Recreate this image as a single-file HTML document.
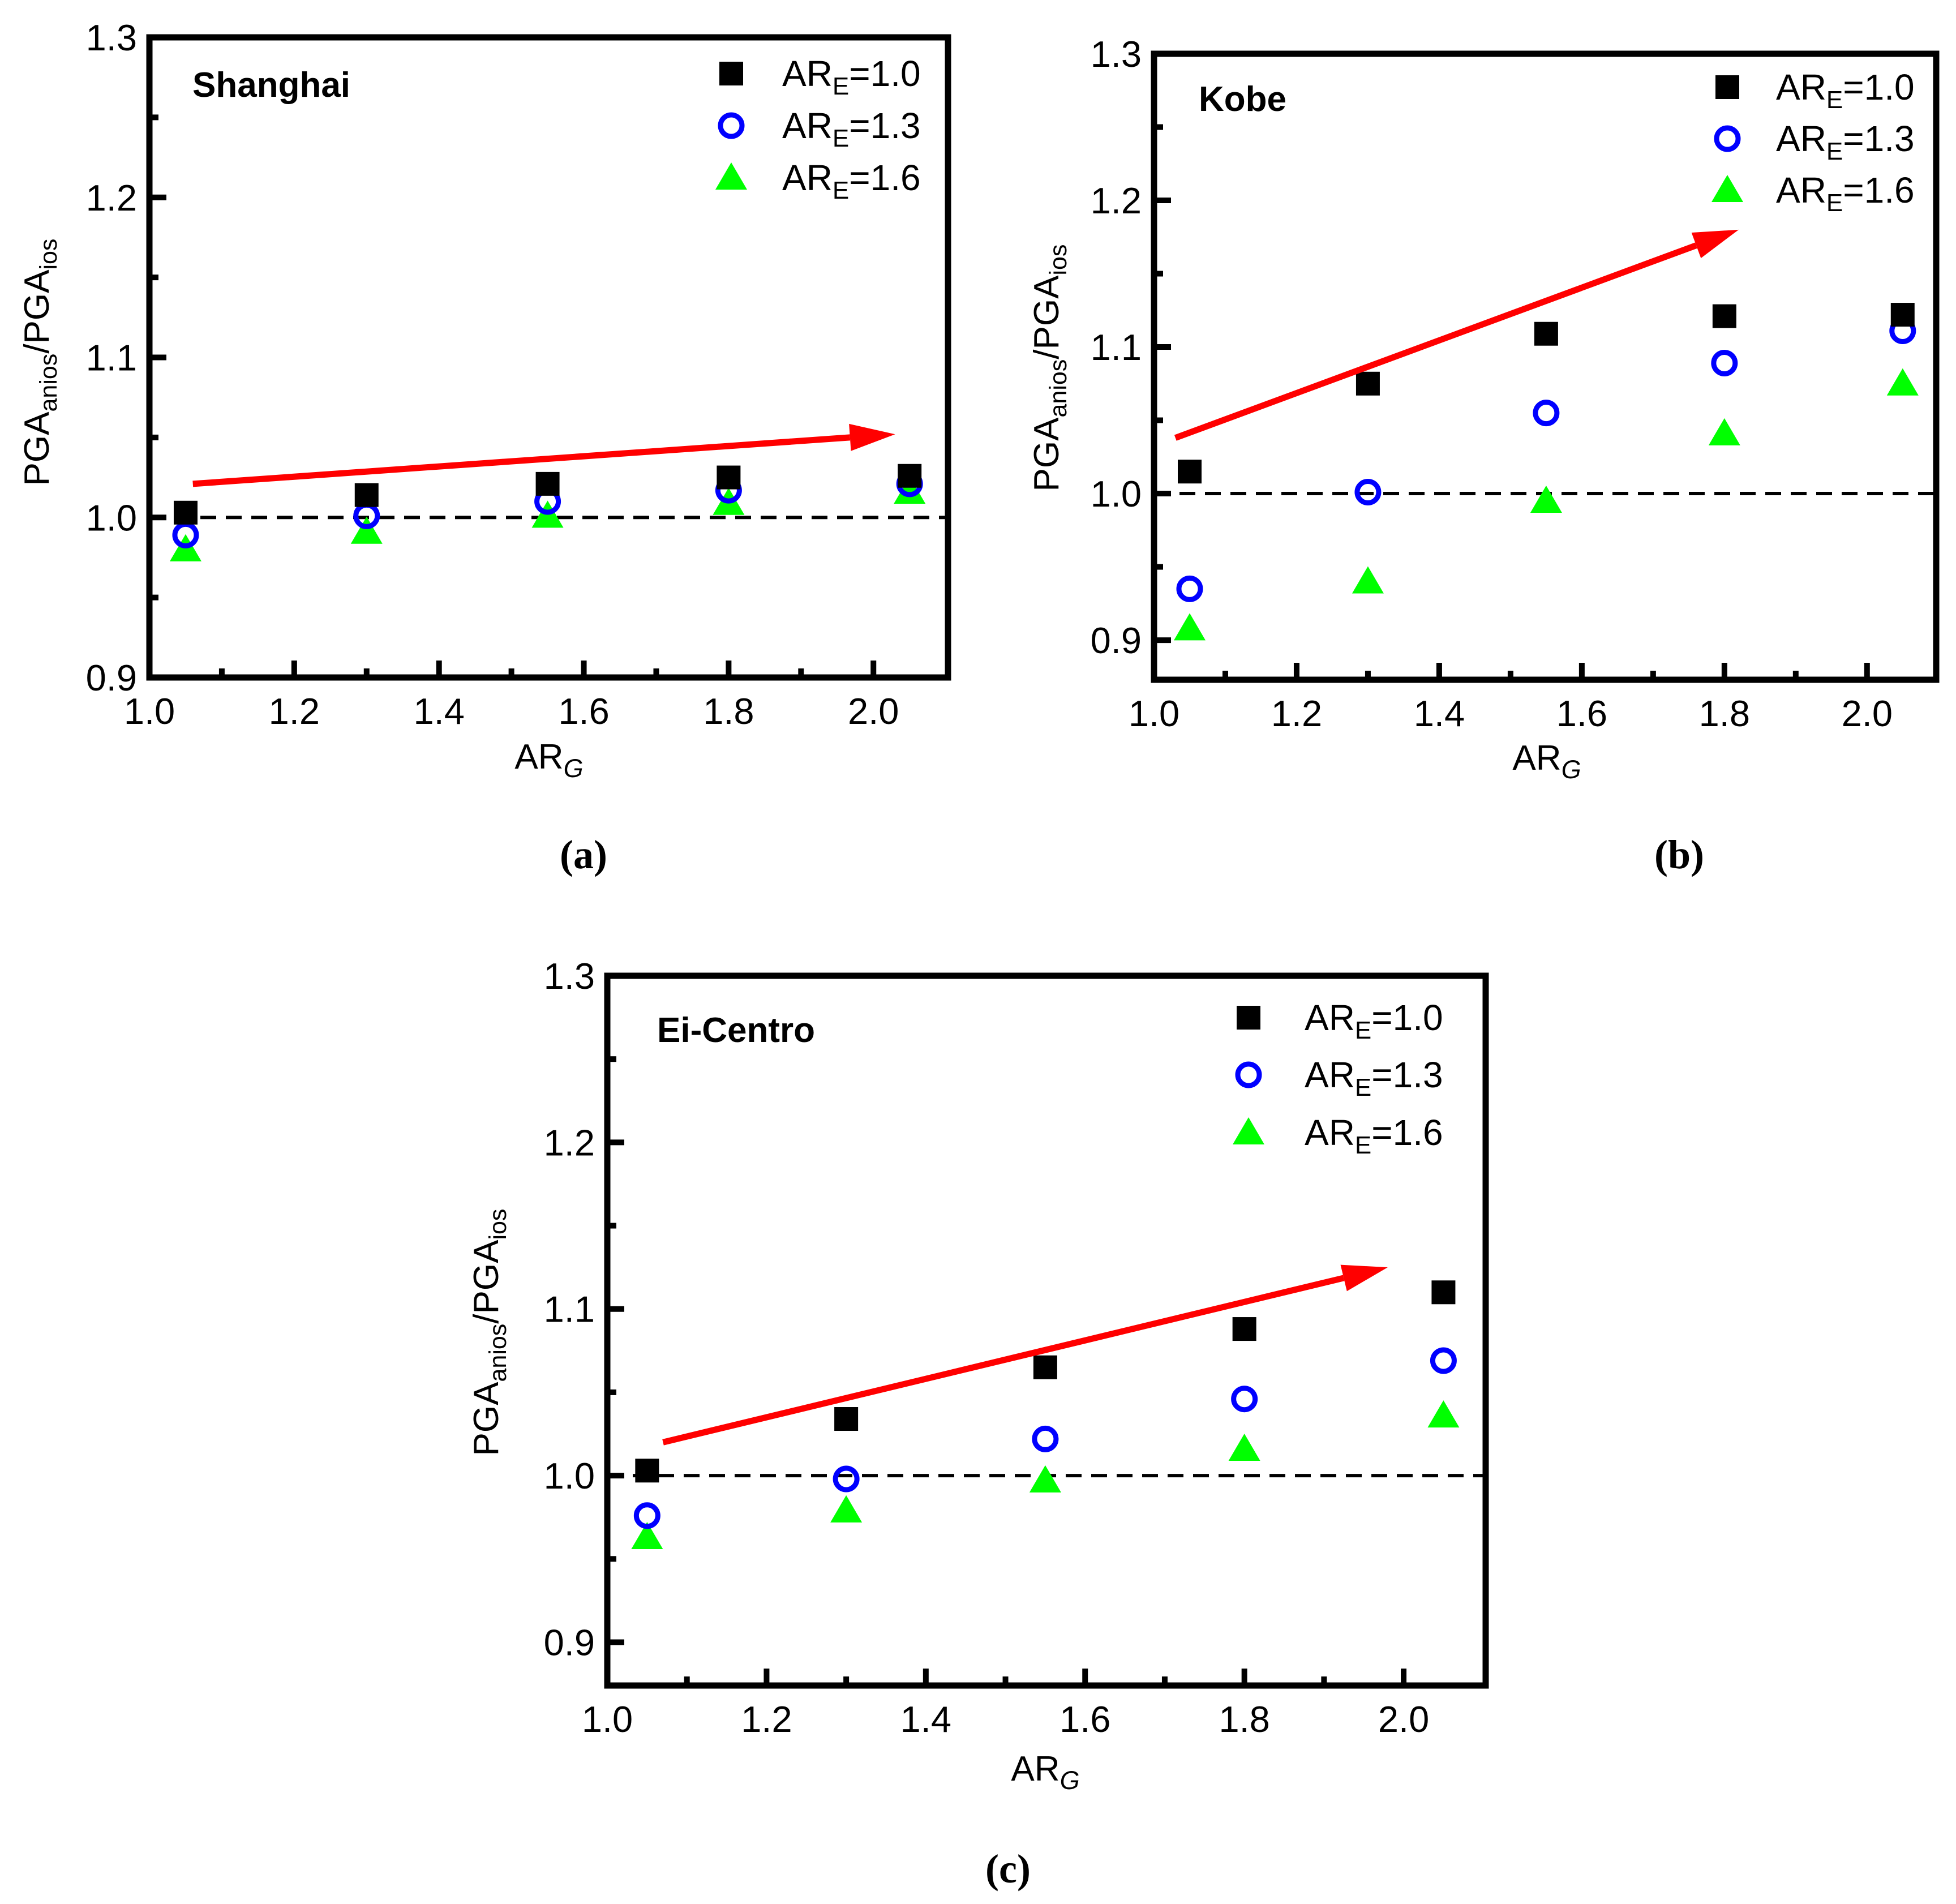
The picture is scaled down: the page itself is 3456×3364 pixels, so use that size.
<!DOCTYPE html>
<html><head><meta charset="utf-8"><style>
html,body{margin:0;padding:0;background:#fff;}
svg{display:block;font-family:"Liberation Sans",sans-serif;}
</style></head><body>
<svg id="fig" width="3456" height="3364" viewBox="0 0 3456 3364" xmlns="http://www.w3.org/2000/svg"></svg>
<script>
const categories = [1.05, 1.30, 1.55, 1.80, 2.05];
const shanghaiAR10 = [1.003, 1.014, 1.021, 1.025, 1.026];
const shanghaiAR13 = [0.989, 1.001, 1.010, 1.017, 1.021];
const shanghaiAR16 = [0.980, 0.991, 1.001, 1.009, 1.016];
const kobeAR10 = [1.015, 1.075, 1.109, 1.121, 1.122];
const kobeAR13 = [0.935, 1.001, 1.055, 1.089, 1.111];
const kobeAR16 = [0.908, 0.940, 0.995, 1.041, 1.075];
const centroAR10 = [1.003, 1.034, 1.065, 1.088, 1.110];
const centroAR13 = [0.976, 0.998, 1.022, 1.046, 1.069];
const centroAR16 = [0.963, 0.979, 0.997, 1.016, 1.036];
const yTickLabels = ["0.9", "1.0", "1.1", "1.2", "1.3"];
const xTickLabels = ["1.0", "1.2", "1.4", "1.6", "1.8", "2.0"];
const legendLabels = ["1.0", "1.3", "1.6"];
const shanghaiArrow = [1.06, 1.021, 2.03, 1.052];
const kobeArrow = [1.03, 1.038, 1.82, 1.180];
const centroArrow = [1.07, 1.020, 1.98, 1.125];

const NS = "http://www.w3.org/2000/svg";
const svg = document.getElementById('fig');
function mk(tag, attrs, parent){const e=document.createElementNS(NS,tag);for(const k in attrs)e.setAttribute(k,attrs[k]);(parent||svg).appendChild(e);return e;}

const panels = [
 {id:'a', title:'Shanghai', L:264,R:1675,T:66,B:1197, ymin:0.9,ymax:1.3, xmax:2.103, s:[shanghaiAR10,shanghaiAR13,shanghaiAR16], arrow:shanghaiArrow,
  leg:{mx:1292,tx:1382,y:[130,222,314]}, tt:[340,150], ylab:[66,640], xlab:[970,1336], plab:[1031,1510]},
 {id:'b', title:'Kobe', L:2039,R:3421,T:95,B:1201, ymin:0.873,ymax:1.3, xmax:2.097, s:[kobeAR10,kobeAR13,kobeAR16], arrow:kobeArrow,
  leg:{mx:3052,tx:3138,y:[154,245,336]}, tt:[2118,175], ylab:[1850,650], xlab:[2733,1338], plab:[2967,1510]},
 {id:'c', title:'Ei-Centro', L:1073,R:2625,T:1724,B:2978, ymin:0.874,ymax:1.3, xmax:2.103, s:[centroAR10,centroAR13,centroAR16], arrow:centroArrow,
  leg:{mx:2206,tx:2305,y:[1798,1899,2001]}, tt:[1161,1820], ylab:[860,2354], xlab:[1847,3124], plab:[1781,3302]}
];

panels.forEach(p=>{
  const g = mk('g',{});
  
  
  const xs = v => p.L + (v-1.0)/(p.xmax-1.0)*(p.R-p.L);
  const ys = v => p.B - (v-p.ymin)/(p.ymax-p.ymin)*(p.B-p.T);
  const ref = mk('line',{x1:p.L,x2:p.R,y1:ys(1.0),y2:ys(1.0),stroke:'#000','stroke-width':6,'stroke-dasharray':'28,17'},g);
  
  
  for(let i=0;i<=8;i++){
    const v = 0.9 + i*0.05; if(v>p.ymax+1e-9) continue;
    const major = i%2===0;
    const t = mk('line',{x1:p.L,x2:p.L+(major?30:16),y1:ys(v),y2:ys(v),stroke:'#000','stroke-width':10},g);
    
    
    if(major){
      const tx = mk('text',{x:p.L-22,y:ys(v)+23,'text-anchor':'end','font-size':65,fill:'#000'},g);
      tx.textContent = yTickLabels[i/2];
      
      
    }
  }
  for(let i=0;i<=10;i++){
    const v = 1.0 + i*0.1;
    const major = i%2===0;
    const t = mk('line',{x1:xs(v),x2:xs(v),y1:p.B,y2:p.B-(major?30:16),stroke:'#000','stroke-width':10},g);
    
    
    if(major){
      const tx = mk('text',{x:xs(v),y:p.B+82,'text-anchor':'middle','font-size':65,fill:'#000'},g);
      tx.textContent = xTickLabels[i/2];
      
      
    }
  }
  const fr = mk('rect',{x:p.L,y:p.T,width:p.R-p.L,height:p.B-p.T,fill:'none',stroke:'#000','stroke-width':11},g);
  
  
  function marker(kind,cx,cy,parent,name){
    let e;
    if(kind===0) e = mk('rect',{x:cx-21,y:cy-21,width:42,height:42,fill:'#000'},parent);
    else if(kind===1) e = mk('circle',{cx:cx,cy:cy,r:19,fill:'none',stroke:'#0000ff','stroke-width':9},parent);
    else e = mk('polygon',{points:`${cx},${cy-27} ${cx+28},${cy+21} ${cx-28},${cy+21}`,fill:'#00ff00'},parent);
    
    
  }
  [2,1,0].forEach(k=>{
    p.s[k].forEach((v,i)=>marker(k,xs(categories[i]),ys(v),g,['point-are-1-0','point-are-1-3','point-are-1-6'][k]));
  });
  const a=p.arrow; const x1=xs(a[0]),y1=ys(a[1]),x2=xs(a[2]),y2=ys(a[3]);
  const ang=Math.atan2(y2-y1,x2-x1), hl=80, hw=24;
  const bx=x2-hl*Math.cos(ang), by=y2-hl*Math.sin(ang);
  const al = mk('line',{x1:x1,y1:y1,x2:bx,y2:by,stroke:'#ff0000','stroke-width':11},g);
  
  
  const ah = mk('polygon',{points:`${x2},${y2} ${bx-hw*Math.sin(ang)},${by+hw*Math.cos(ang)} ${bx+hw*Math.sin(ang)},${by-hw*Math.cos(ang)}`,fill:'#ff0000'},g);
  
  
  for(let k=0;k<3;k++){
    marker(k,p.leg.mx,p.leg.y[k],g,'legend-marker');
    const t = mk('text',{x:p.leg.tx,y:p.leg.y[k]+22,'font-size':64,fill:'#000'},g);
    t.innerHTML = 'AR<tspan font-size="44" dy="15">E</tspan><tspan dy="-15">='+legendLabels[k]+'</tspan>';
    
    
  }
  const tt = mk('text',{x:p.tt[0],y:p.tt[1]+21,'font-size':62,'font-weight':'bold',fill:'#000'},g);
  tt.textContent = p.title;
  
  
  const yl = mk('text',{x:0,y:0,'text-anchor':'middle','font-size':62,fill:'#000',transform:`translate(${p.ylab[0]+20},${p.ylab[1]}) rotate(-90)`},g);
  yl.innerHTML = 'PGA<tspan font-size="43" dy="14">anios</tspan><tspan dy="-14">/PGA</tspan><tspan font-size="43" dy="14">ios</tspan>';
  
  
  const xl = mk('text',{x:p.xlab[0],y:p.xlab[1]+22,'text-anchor':'middle','font-size':62,fill:'#000'},g);
  xl.innerHTML = 'AR<tspan font-size="45" font-style="italic" dy="15">G</tspan>';
  
  
  const pl = mk('text',{x:p.plab[0],y:p.plab[1]+24,'text-anchor':'middle','font-size':72,'font-weight':'bold','font-family':'"Liberation Serif",serif',fill:'#000'},g);
  pl.textContent = '('+p.id+')';
  
  
});
</script>
</body></html>
